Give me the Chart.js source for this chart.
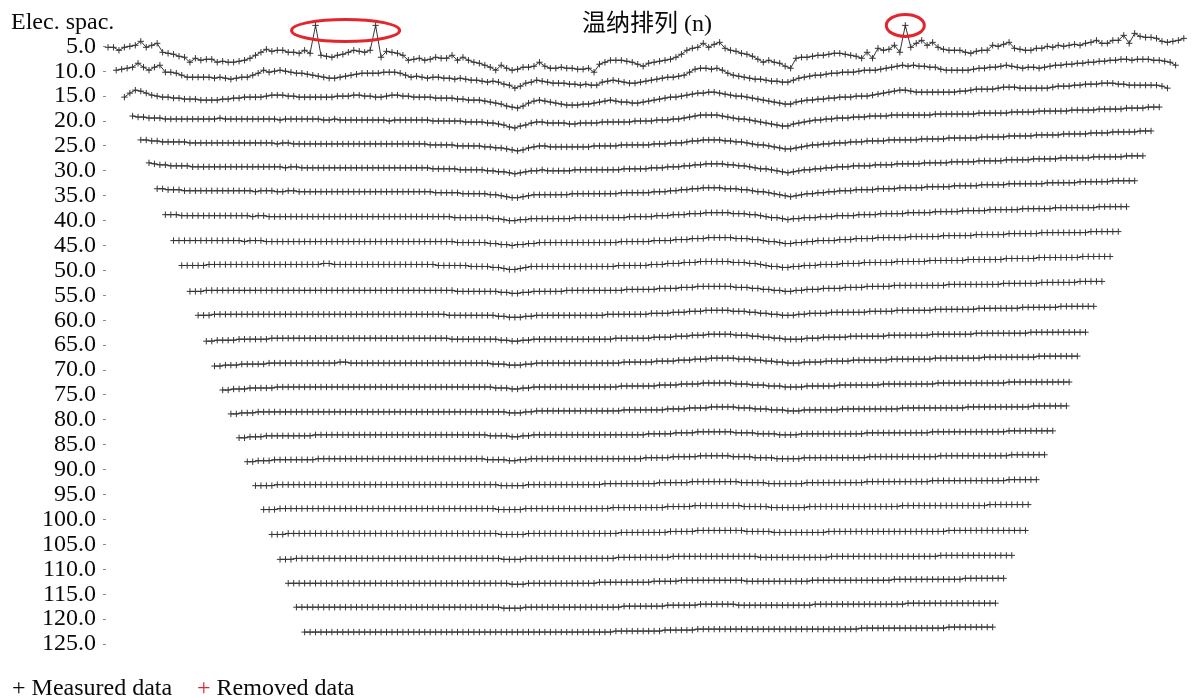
<!DOCTYPE html>
<html>
<head>
<meta charset="utf-8">
<title>温纳排列 (n)</title>
<script src="https://cdn.jsdelivr.net/npm/chart.js@4/dist/chart.umd.min.js"></script>
<style>
  html, body { margin: 0; padding: 0; background: #fff; }
  #wrap { position: relative; width: 1194px; height: 698px; overflow: hidden; }
  #c { position: absolute; left: 0; top: 0; }
  .txt { position: absolute; font-family: "Liberation Serif", "Noto Sans CJK SC", serif; font-size: 24px;
         line-height: 24px; color: #0a0a0a; white-space: nowrap; }
</style>
</head>
<body>
<div id="wrap">
  <canvas id="c" width="1194" height="698"></canvas>
  <div class="txt" style="left:11px; top:9px;">Elec. spac.</div>
  <div class="txt" style="left:582px; top:11px;">温纳排列 (n)</div>
  <div class="txt" style="left:12px; top:675px;">+ Measured data</div>
  <div class="txt" style="left:197px; top:675px;"><span style="color:#e3262d">+</span> Removed data</div>
</div>
<script>
// Electrode spacings (m) of the data levels, n = 1..25
const spacingLevels = [5, 10, 15, 20, 25, 30, 35, 40, 45, 50, 55, 60, 65, 70, 75, 80, 85, 90, 95, 100, 105, 110, 115, 120, 125];

// Profile offsets of each level, one value per Wenner station (0.2 spacing units per step, positive = downward)
const row5 = [1,1,4,1,0,-1,-5,1,-1,-3,6,7,8,10,11,16,12,14,13,13,16,15,16,16,15,14,12,9,6,3,5,4,4,6,6,7,4,7,-21,9,10,11,9,8,6,4,5,6,4,-21,11,5,6,7,9,14,13,12,14,13,11,12,12,9,14,11,14,16,17,19,21,24,19,22,24,23,21,21,20,16,20,22,22,21,22,22,23,23,22,26,18,16,14,14,14,15,16,18,20,17,16,15,14,13,11,8,4,2,1,-3,1,-2,-4,2,4,5,7,8,10,13,16,14,16,17,20,22,12,11,11,10,9,9,8,7,7,8,9,10,12,6,12,2,4,3,-1,6,-21,1,-3,-6,-1,-4,1,3,4,4,4,6,7,5,4,4,-1,0,-2,-4,2,3,4,4,2,2,0,1,-1,0,-1,-2,-1,-3,-4,-6,-3,-3,-6,-6,-11,-3,-13,-10,-9,-9,-8,-5,-4,-5,-6,-8];
const row10 = [-1,-2,-3,-4,-8,-4,-1,-4,-6,1,1,2,4,6,6,6,6,6,7,6,7,8,7,6,6,4,2,-1,1,0,-1,0,1,2,2,3,4,5,6,7,7,6,5,4,3,2,2,2,2,1,1,1,2,4,6,5,6,7,6,6,7,7,8,7,8,9,9,10,11,10,11,13,14,17,15,12,11,9,10,11,12,12,12,13,13,14,13,14,14,11,10,9,10,11,12,12,11,10,9,8,7,6,6,5,4,1,-2,-3,-3,-2,-3,-1,2,4,5,6,7,8,8,9,10,10,11,11,9,7,6,5,4,4,3,2,2,1,1,1,0,-1,-1,-1,-2,-3,-4,-5,-6,-5,-6,-5,-5,-4,-4,-2,-1,-1,-1,-1,-1,-2,-3,-3,-4,-4,-5,-6,-5,-4,-3,-4,-4,-3,-4,-5,-6,-6,-7,-7,-8,-8,-9,-9,-10,-10,-11,-11,-12,-12,-11,-12,-12,-12,-11,-11,-10,-9,-6];
const row15 = [1,-3,-6,-5,-3,-1,0,1,1,2,2,3,3,3,4,4,4,4,3,3,2,2,1,1,1,1,0,-1,-1,-1,0,0,1,1,1,1,1,1,1,0,0,0,-1,-1,0,0,1,1,0,-1,-1,0,0,1,1,1,1,2,2,2,2,3,3,4,4,4,5,6,7,8,10,11,12,10,7,5,4,5,6,7,8,9,9,9,8,8,7,6,5,4,5,6,6,7,7,6,5,4,3,2,1,1,0,-1,-2,-3,-3,-4,-4,-3,-2,-1,0,0,1,2,3,4,5,6,7,8,8,6,5,4,4,3,3,2,2,1,1,1,0,0,0,-1,-2,-3,-4,-5,-6,-6,-5,-4,-4,-4,-4,-4,-4,-4,-4,-5,-5,-6,-7,-7,-7,-7,-8,-9,-9,-9,-8,-8,-8,-8,-8,-8,-9,-10,-10,-10,-11,-11,-12,-12,-12,-13,-13,-13,-12,-12,-11,-11,-11,-11,-11,-11,-10,-8];
const row20 = [-5,-4,-4,-3,-3,-3,-2,-2,-2,-2,-2,-2,-2,-2,-2,-2,-3,-2,-2,-2,-2,-2,-2,-2,-2,-2,-2,-1,-2,-2,-2,-2,-2,-2,-2,-1,-1,-2,-1,-1,-1,-1,-1,-1,-1,-1,-1,0,-1,-1,-1,-1,-1,-1,-1,0,0,0,0,0,0,1,1,1,1,2,2,3,4,6,7,5,4,2,1,1,2,2,2,2,3,3,2,2,2,2,1,1,1,1,1,1,0,0,0,0,-1,-1,-1,-2,-2,-3,-4,-5,-6,-6,-6,-6,-5,-4,-3,-2,-2,-1,0,1,2,3,4,5,5,3,2,1,0,-1,-1,-2,-2,-3,-3,-3,-4,-4,-4,-5,-5,-5,-5,-6,-6,-6,-6,-6,-6,-6,-6,-7,-7,-7,-7,-7,-7,-7,-7,-8,-8,-8,-8,-8,-8,-9,-9,-9,-9,-9,-10,-10,-10,-10,-10,-10,-11,-11,-11,-11,-11,-12,-12,-12,-12,-12,-13,-13,-13,-13,-14,-14,-14];
const row25 = [-6,-6,-5,-5,-4,-4,-4,-4,-4,-3,-3,-3,-3,-3,-3,-3,-3,-3,-3,-3,-3,-3,-3,-3,-3,-2,-3,-3,-2,-2,-2,-2,-2,-2,-2,-2,-2,-2,-2,-2,-2,-2,-2,-2,-2,-2,-2,-2,-2,-2,-2,-2,-2,-1,-1,-1,-1,-1,0,0,0,0,0,1,1,2,2,3,4,5,4,2,1,0,0,1,1,1,1,1,1,1,1,0,0,0,0,0,-1,-1,-1,-1,-1,-1,-2,-2,-2,-3,-3,-3,-4,-5,-5,-6,-6,-6,-6,-5,-5,-4,-4,-3,-2,-1,-1,0,1,2,3,3,2,1,0,-1,-1,-2,-2,-3,-3,-3,-4,-4,-4,-5,-5,-5,-5,-6,-6,-6,-6,-6,-6,-7,-7,-7,-7,-7,-8,-8,-8,-8,-8,-8,-9,-9,-9,-9,-9,-10,-10,-10,-10,-10,-11,-11,-11,-11,-11,-12,-12,-12,-12,-12,-13,-13,-13,-13,-14,-14,-14,-14,-14,-15,-15,-15];
const row30 = [-8,-7,-6,-6,-5,-5,-5,-5,-4,-4,-4,-4,-4,-4,-4,-4,-4,-4,-4,-4,-4,-4,-4,-4,-4,-3,-4,-4,-3,-3,-3,-3,-3,-3,-3,-3,-3,-3,-3,-3,-3,-3,-3,-3,-3,-3,-3,-3,-3,-3,-3,-3,-2,-2,-2,-2,-2,-1,-1,-1,-1,-1,0,0,1,1,2,3,2,1,0,0,-1,0,0,0,0,0,-1,-1,-1,-1,-1,-1,-1,-1,-1,-2,-2,-2,-2,-2,-3,-3,-3,-4,-4,-4,-5,-5,-6,-6,-7,-7,-7,-7,-6,-6,-5,-5,-4,-3,-2,-2,-1,0,1,2,1,0,-1,-1,-2,-2,-3,-3,-4,-4,-4,-5,-5,-5,-5,-6,-6,-6,-6,-7,-7,-7,-7,-7,-8,-8,-8,-8,-8,-9,-9,-9,-9,-9,-10,-10,-10,-10,-10,-11,-11,-11,-11,-11,-12,-12,-12,-12,-12,-13,-13,-13,-13,-13,-13,-14,-14,-14,-14,-14,-14,-15,-15,-15,-15];
const row35 = [-7,-7,-6,-6,-6,-5,-5,-5,-5,-5,-5,-5,-5,-5,-5,-5,-5,-5,-4,-5,-5,-5,-4,-4,-5,-5,-4,-4,-4,-4,-4,-4,-4,-4,-4,-4,-4,-4,-4,-4,-4,-4,-4,-4,-4,-4,-4,-4,-4,-4,-4,-3,-3,-3,-3,-3,-2,-2,-2,-2,-2,-1,-1,0,1,2,2,1,0,-1,-1,-1,-1,-1,-1,-1,-2,-2,-2,-2,-2,-2,-2,-2,-2,-3,-3,-3,-3,-3,-3,-4,-4,-4,-5,-5,-6,-6,-7,-7,-8,-8,-8,-8,-7,-7,-7,-6,-6,-5,-4,-4,-3,-2,-1,0,1,0,-1,-2,-2,-3,-3,-4,-4,-5,-5,-5,-6,-6,-6,-6,-7,-7,-7,-7,-8,-8,-8,-8,-8,-9,-9,-9,-9,-9,-10,-10,-10,-10,-10,-11,-11,-11,-11,-11,-12,-12,-12,-12,-12,-12,-12,-13,-13,-13,-13,-13,-13,-14,-14,-14,-14,-14,-14,-15,-15,-15,-15,-15];
const row40 = [-6,-6,-6,-5,-5,-5,-5,-5,-5,-5,-5,-5,-5,-5,-5,-5,-4,-5,-5,-4,-4,-4,-4,-4,-4,-4,-4,-4,-4,-4,-4,-4,-4,-4,-4,-4,-4,-4,-4,-4,-4,-4,-4,-4,-4,-4,-4,-4,-4,-4,-4,-4,-4,-3,-3,-3,-3,-3,-3,-3,-2,-2,-1,0,0,-1,-1,-2,-2,-2,-2,-2,-2,-2,-2,-3,-3,-3,-3,-3,-3,-3,-3,-3,-3,-4,-4,-4,-4,-4,-5,-5,-5,-6,-6,-6,-7,-7,-7,-8,-8,-8,-8,-8,-7,-7,-7,-6,-6,-5,-4,-3,-3,-2,-1,-2,-2,-3,-3,-3,-4,-4,-4,-5,-5,-5,-5,-6,-6,-6,-6,-7,-7,-7,-7,-7,-8,-8,-8,-8,-8,-9,-9,-9,-9,-9,-10,-10,-10,-10,-10,-11,-11,-11,-11,-11,-11,-12,-12,-12,-12,-12,-12,-13,-13,-13,-13,-13,-13,-13,-13,-14,-14,-14,-14,-14,-14];
const row45 = [-5,-5,-5,-5,-5,-5,-5,-5,-5,-5,-5,-5,-5,-4,-5,-5,-5,-4,-4,-4,-4,-4,-4,-4,-4,-4,-4,-4,-4,-4,-4,-4,-4,-4,-4,-4,-4,-4,-4,-4,-4,-4,-4,-4,-4,-4,-4,-4,-4,-4,-4,-4,-3,-3,-3,-3,-3,-3,-2,-2,-1,-1,0,-1,-1,-2,-2,-3,-3,-3,-3,-3,-3,-3,-3,-3,-3,-3,-3,-3,-3,-3,-4,-4,-4,-4,-4,-4,-5,-5,-5,-5,-6,-6,-6,-7,-7,-7,-8,-8,-8,-8,-8,-7,-7,-7,-6,-6,-5,-4,-4,-3,-2,-2,-3,-3,-4,-4,-5,-5,-5,-5,-6,-6,-6,-7,-7,-7,-7,-8,-8,-8,-8,-8,-8,-9,-9,-9,-9,-9,-9,-10,-10,-10,-10,-10,-10,-11,-11,-11,-11,-11,-11,-12,-12,-12,-12,-12,-12,-13,-13,-13,-13,-13,-13,-13,-13,-13,-14,-14,-14,-14,-14,-14];
const row50 = [-5,-5,-5,-5,-5,-6,-6,-6,-6,-6,-6,-6,-6,-6,-6,-6,-6,-6,-6,-6,-6,-6,-6,-6,-6,-6,-7,-7,-6,-6,-6,-6,-6,-6,-6,-6,-6,-6,-6,-6,-6,-6,-6,-6,-6,-6,-6,-5,-5,-5,-5,-5,-5,-4,-4,-4,-4,-3,-3,-2,-1,-1,-2,-3,-4,-4,-4,-4,-4,-4,-4,-4,-4,-4,-4,-4,-4,-4,-4,-4,-5,-5,-5,-5,-5,-5,-6,-6,-6,-7,-7,-7,-8,-8,-8,-9,-9,-9,-9,-9,-9,-8,-8,-8,-7,-7,-6,-5,-4,-4,-3,-3,-4,-4,-5,-5,-5,-6,-6,-6,-6,-7,-7,-7,-7,-8,-8,-8,-8,-8,-8,-9,-9,-9,-9,-9,-9,-10,-10,-10,-10,-10,-10,-10,-11,-11,-11,-11,-11,-11,-11,-12,-12,-12,-12,-12,-12,-13,-13,-13,-13,-13,-13,-13,-13,-14,-14,-14,-14,-14,-14];
const row55 = [-4,-4,-4,-5,-5,-5,-5,-5,-5,-5,-5,-5,-5,-5,-5,-5,-5,-5,-5,-5,-5,-5,-5,-5,-5,-5,-5,-5,-5,-5,-5,-5,-5,-5,-5,-5,-5,-5,-5,-5,-5,-5,-5,-5,-5,-5,-5,-5,-5,-4,-4,-4,-4,-4,-4,-4,-4,-3,-3,-2,-2,-3,-3,-4,-4,-4,-4,-4,-4,-5,-5,-5,-5,-5,-5,-5,-5,-5,-5,-5,-6,-6,-6,-6,-6,-6,-7,-7,-7,-7,-8,-8,-8,-9,-9,-9,-9,-9,-9,-9,-8,-8,-8,-7,-7,-6,-6,-5,-5,-4,-4,-5,-5,-6,-6,-6,-7,-7,-7,-7,-8,-8,-8,-8,-9,-9,-9,-9,-9,-10,-10,-10,-10,-10,-10,-10,-10,-10,-10,-11,-11,-11,-11,-11,-11,-11,-11,-11,-11,-12,-12,-12,-12,-12,-12,-12,-13,-13,-13,-13,-13,-13,-13,-14,-14,-14,-14,-14];
const row60 = [-5,-5,-5,-6,-6,-6,-6,-6,-6,-6,-6,-6,-6,-6,-6,-6,-6,-6,-6,-6,-6,-6,-6,-6,-6,-6,-6,-6,-6,-6,-6,-6,-6,-6,-6,-6,-6,-6,-6,-6,-6,-6,-6,-6,-6,-6,-5,-5,-5,-5,-5,-5,-5,-5,-5,-4,-4,-3,-3,-3,-4,-4,-5,-5,-5,-5,-5,-5,-5,-5,-5,-5,-5,-5,-5,-6,-6,-6,-6,-6,-6,-6,-6,-7,-7,-7,-7,-8,-8,-8,-9,-9,-9,-10,-10,-10,-10,-10,-9,-9,-9,-8,-8,-7,-7,-6,-6,-5,-5,-5,-6,-6,-7,-7,-7,-7,-8,-8,-8,-8,-8,-8,-8,-9,-9,-9,-9,-9,-10,-10,-10,-10,-10,-10,-10,-11,-11,-11,-11,-11,-11,-11,-11,-12,-12,-12,-12,-12,-12,-12,-12,-13,-13,-13,-13,-13,-13,-13,-14,-14,-14,-14,-14,-14,-14];
const row65 = [-4,-4,-5,-5,-5,-5,-6,-6,-6,-6,-6,-6,-7,-7,-7,-7,-7,-7,-7,-7,-7,-7,-7,-7,-7,-7,-7,-7,-7,-7,-7,-7,-7,-7,-7,-7,-7,-7,-7,-7,-7,-7,-7,-7,-7,-6,-6,-6,-6,-6,-6,-6,-6,-6,-5,-5,-4,-4,-5,-5,-6,-6,-6,-6,-6,-6,-6,-6,-6,-6,-6,-6,-6,-6,-6,-7,-7,-7,-7,-7,-7,-7,-8,-8,-8,-8,-9,-9,-9,-10,-10,-10,-11,-11,-11,-11,-11,-10,-10,-10,-9,-9,-8,-8,-7,-7,-6,-6,-6,-6,-7,-7,-7,-8,-8,-8,-8,-8,-9,-9,-9,-9,-9,-9,-9,-10,-10,-10,-10,-10,-10,-10,-10,-11,-11,-11,-11,-11,-11,-11,-11,-12,-12,-12,-12,-12,-12,-12,-12,-12,-12,-13,-13,-13,-13,-13,-13,-13,-13,-13,-13,-13];
const row70 = [-4,-4,-5,-5,-5,-6,-6,-6,-6,-6,-7,-7,-7,-7,-7,-7,-7,-7,-7,-7,-7,-7,-7,-8,-8,-7,-7,-7,-7,-7,-7,-7,-7,-7,-7,-7,-7,-7,-7,-7,-7,-7,-7,-7,-7,-7,-7,-7,-7,-7,-7,-6,-6,-6,-5,-5,-5,-6,-6,-7,-7,-7,-7,-7,-7,-7,-7,-7,-7,-7,-7,-7,-7,-7,-7,-8,-8,-8,-8,-8,-8,-9,-9,-9,-9,-10,-10,-10,-11,-11,-11,-12,-12,-12,-12,-12,-11,-11,-11,-10,-10,-9,-9,-8,-8,-7,-7,-7,-8,-8,-8,-8,-9,-9,-9,-9,-9,-10,-10,-10,-10,-10,-10,-10,-11,-11,-11,-11,-11,-11,-11,-11,-12,-12,-12,-12,-12,-12,-12,-12,-12,-13,-13,-13,-13,-13,-13,-13,-13,-13,-13,-14,-14,-14,-14,-14,-14,-14,-14];
const row75 = [-5,-5,-6,-6,-6,-7,-7,-7,-7,-7,-8,-8,-8,-8,-8,-8,-8,-8,-8,-8,-8,-8,-8,-8,-8,-8,-8,-8,-8,-8,-8,-8,-8,-8,-8,-8,-8,-8,-8,-8,-8,-8,-8,-8,-8,-8,-8,-8,-8,-8,-7,-7,-7,-6,-6,-7,-7,-8,-8,-8,-8,-8,-8,-8,-8,-8,-8,-8,-8,-8,-8,-8,-8,-9,-9,-9,-9,-9,-9,-9,-10,-10,-10,-10,-11,-11,-11,-11,-12,-12,-12,-12,-12,-12,-11,-11,-11,-10,-10,-10,-9,-9,-9,-8,-8,-8,-8,-9,-9,-9,-9,-9,-9,-10,-10,-10,-10,-10,-10,-10,-10,-11,-11,-11,-11,-11,-11,-11,-11,-11,-11,-12,-12,-12,-12,-12,-12,-12,-12,-12,-12,-12,-12,-12,-13,-13,-13,-13,-13,-13,-13,-13,-13,-13,-13,-13];
const row80 = [-6,-6,-7,-7,-7,-8,-8,-8,-8,-8,-8,-8,-8,-8,-8,-8,-8,-8,-8,-8,-8,-8,-8,-8,-8,-8,-8,-8,-8,-8,-8,-8,-8,-8,-8,-8,-8,-8,-8,-8,-8,-8,-8,-8,-8,-8,-8,-8,-8,-8,-8,-7,-7,-7,-8,-8,-9,-9,-9,-9,-9,-9,-9,-9,-9,-9,-9,-9,-9,-9,-9,-9,-10,-10,-10,-10,-10,-10,-10,-10,-11,-11,-11,-11,-12,-12,-12,-12,-13,-13,-13,-13,-13,-12,-12,-12,-11,-11,-11,-10,-10,-10,-9,-9,-9,-10,-10,-10,-10,-10,-10,-10,-11,-11,-11,-11,-11,-11,-11,-11,-11,-11,-11,-12,-12,-12,-12,-12,-12,-12,-12,-12,-12,-12,-12,-13,-13,-13,-13,-13,-13,-13,-13,-13,-13,-13,-13,-14,-14,-14,-14,-14,-14,-14];
const row85 = [-7,-7,-8,-8,-8,-9,-9,-9,-9,-9,-9,-9,-9,-9,-10,-10,-10,-10,-10,-10,-10,-10,-10,-10,-10,-10,-10,-10,-10,-10,-10,-10,-10,-10,-10,-10,-10,-10,-10,-10,-10,-10,-10,-10,-10,-10,-9,-9,-9,-9,-8,-8,-9,-9,-10,-10,-10,-10,-10,-10,-10,-10,-10,-10,-10,-10,-10,-10,-10,-10,-10,-10,-10,-10,-10,-11,-11,-11,-11,-11,-12,-12,-12,-12,-13,-13,-13,-13,-13,-13,-13,-12,-12,-12,-12,-11,-11,-11,-11,-10,-10,-10,-10,-11,-11,-11,-11,-11,-11,-11,-11,-11,-11,-11,-11,-12,-12,-12,-12,-12,-12,-12,-12,-12,-12,-12,-12,-13,-13,-13,-13,-13,-13,-13,-13,-13,-13,-13,-13,-13,-13,-14,-14,-14,-14,-14,-14,-14,-14,-14];
const row90 = [-8,-8,-9,-9,-9,-10,-10,-10,-10,-10,-10,-10,-10,-11,-11,-11,-11,-11,-11,-11,-11,-11,-11,-11,-11,-11,-11,-11,-11,-11,-11,-11,-11,-11,-11,-11,-11,-11,-11,-11,-11,-11,-11,-11,-10,-10,-10,-10,-9,-9,-10,-10,-11,-11,-11,-11,-11,-11,-11,-11,-11,-11,-11,-11,-11,-11,-11,-11,-11,-11,-11,-11,-11,-12,-12,-12,-12,-12,-13,-13,-13,-13,-13,-14,-14,-14,-14,-14,-14,-13,-13,-13,-13,-12,-12,-12,-12,-11,-11,-11,-11,-11,-12,-12,-12,-12,-12,-12,-12,-12,-12,-12,-12,-12,-13,-13,-13,-13,-13,-13,-13,-13,-13,-13,-13,-13,-13,-14,-14,-14,-14,-14,-14,-14,-14,-14,-14,-14,-14,-14,-15,-15,-15,-15,-15,-15,-15];
const row95 = [-9,-9,-9,-9,-10,-10,-10,-10,-10,-10,-10,-10,-10,-10,-10,-10,-10,-10,-10,-10,-10,-10,-10,-10,-10,-10,-10,-10,-10,-10,-10,-10,-10,-10,-10,-10,-10,-10,-10,-10,-10,-10,-10,-10,-10,-9,-9,-9,-9,-9,-10,-10,-10,-10,-10,-10,-10,-10,-10,-10,-10,-10,-10,-10,-11,-11,-11,-11,-11,-11,-11,-11,-11,-11,-12,-12,-12,-12,-12,-12,-13,-13,-13,-13,-13,-13,-13,-13,-13,-12,-12,-12,-12,-12,-11,-11,-11,-11,-11,-11,-11,-12,-12,-12,-12,-12,-12,-12,-12,-12,-12,-12,-13,-13,-13,-13,-13,-13,-13,-13,-13,-13,-13,-13,-14,-14,-14,-14,-14,-14,-14,-14,-14,-14,-14,-14,-14,-14,-15,-15,-15,-15,-15,-15];
const row100 = [-10,-10,-10,-11,-11,-11,-11,-11,-11,-11,-11,-11,-11,-11,-11,-11,-11,-11,-11,-11,-11,-11,-11,-11,-11,-11,-11,-11,-11,-11,-11,-11,-11,-11,-11,-11,-11,-11,-11,-11,-11,-11,-11,-10,-10,-10,-10,-10,-11,-11,-11,-11,-11,-11,-11,-11,-11,-11,-11,-11,-11,-11,-11,-11,-12,-12,-12,-12,-12,-12,-12,-12,-12,-12,-13,-13,-13,-13,-13,-14,-14,-14,-14,-14,-14,-14,-14,-14,-13,-13,-13,-13,-13,-12,-12,-12,-12,-12,-12,-12,-13,-13,-13,-13,-13,-13,-13,-13,-13,-13,-13,-13,-13,-13,-13,-13,-13,-14,-14,-14,-14,-14,-14,-14,-14,-14,-14,-14,-14,-14,-14,-14,-14,-15,-15,-15,-15,-15,-15,-15,-15];
const row105 = [-10,-10,-10,-11,-11,-11,-11,-11,-11,-11,-11,-11,-11,-11,-11,-11,-11,-11,-11,-11,-11,-11,-11,-11,-11,-11,-11,-11,-11,-11,-11,-11,-11,-11,-11,-11,-11,-11,-11,-11,-11,-11,-10,-10,-10,-10,-10,-11,-11,-11,-11,-11,-11,-11,-11,-11,-11,-11,-11,-11,-11,-11,-11,-11,-12,-12,-12,-12,-12,-12,-12,-12,-12,-13,-13,-13,-13,-13,-14,-14,-14,-14,-14,-14,-14,-14,-14,-13,-13,-13,-13,-13,-12,-12,-12,-12,-12,-12,-12,-12,-12,-12,-13,-13,-13,-13,-13,-13,-13,-13,-13,-13,-13,-13,-13,-13,-13,-13,-13,-13,-13,-13,-13,-13,-14,-14,-14,-14,-14,-14,-14,-14,-14,-14,-14,-14,-14,-14,-14];
const row110 = [-10,-10,-10,-11,-11,-11,-11,-11,-11,-11,-11,-11,-11,-11,-11,-11,-11,-11,-11,-11,-11,-11,-11,-11,-11,-11,-11,-11,-11,-11,-11,-11,-11,-11,-11,-11,-11,-11,-11,-11,-11,-10,-10,-10,-10,-11,-11,-11,-11,-11,-11,-11,-11,-11,-11,-11,-11,-11,-11,-11,-11,-11,-12,-12,-12,-12,-12,-12,-12,-12,-12,-12,-13,-13,-13,-13,-13,-13,-13,-13,-13,-13,-13,-13,-13,-13,-13,-13,-12,-12,-12,-12,-12,-12,-12,-12,-12,-12,-12,-12,-12,-13,-13,-13,-13,-13,-13,-13,-13,-13,-13,-13,-13,-13,-13,-13,-13,-13,-13,-13,-13,-14,-14,-14,-14,-14,-14,-14,-14,-14,-14,-14,-14,-14,-14];
const row115 = [-11,-11,-11,-11,-11,-11,-11,-11,-11,-11,-11,-11,-11,-11,-11,-11,-11,-11,-11,-11,-11,-11,-11,-11,-11,-11,-11,-11,-11,-11,-11,-11,-11,-11,-11,-11,-11,-11,-11,-11,-11,-10,-10,-10,-11,-11,-11,-11,-11,-11,-11,-11,-11,-11,-11,-11,-11,-12,-12,-12,-12,-12,-12,-12,-12,-12,-12,-13,-13,-13,-13,-13,-14,-14,-14,-14,-14,-14,-14,-14,-14,-14,-14,-14,-13,-13,-13,-13,-13,-13,-13,-13,-13,-13,-13,-13,-14,-14,-14,-14,-14,-14,-14,-14,-14,-14,-14,-14,-14,-14,-14,-15,-15,-15,-15,-15,-15,-15,-15,-15,-15,-15,-15,-15,-16,-16,-16,-16,-16,-16,-16,-16];
const row120 = [-12,-12,-12,-12,-12,-12,-12,-12,-12,-12,-12,-12,-12,-12,-12,-12,-12,-12,-12,-12,-12,-12,-12,-12,-12,-12,-12,-12,-12,-12,-12,-12,-12,-12,-12,-12,-12,-12,-11,-11,-11,-11,-12,-12,-12,-12,-12,-12,-12,-12,-12,-12,-12,-12,-12,-12,-12,-12,-12,-12,-13,-13,-13,-13,-13,-13,-13,-13,-14,-14,-14,-14,-14,-14,-15,-15,-15,-15,-15,-15,-15,-14,-14,-14,-14,-14,-14,-14,-14,-14,-14,-14,-14,-14,-14,-15,-15,-15,-15,-15,-15,-15,-15,-15,-15,-15,-15,-15,-15,-15,-15,-15,-16,-16,-16,-16,-16,-16,-16,-16,-16,-16,-16,-16,-16,-16,-16,-16,-16];
const row125 = [-12,-12,-12,-12,-12,-12,-12,-12,-12,-12,-12,-12,-12,-12,-12,-12,-12,-12,-12,-12,-12,-12,-12,-12,-12,-12,-12,-12,-12,-12,-12,-12,-12,-12,-12,-12,-12,-12,-12,-12,-12,-12,-12,-12,-12,-12,-12,-12,-12,-12,-12,-12,-12,-12,-12,-12,-12,-13,-13,-13,-13,-13,-13,-13,-13,-13,-14,-14,-14,-14,-14,-14,-15,-15,-15,-15,-15,-15,-15,-15,-15,-15,-15,-15,-15,-15,-15,-15,-15,-15,-15,-15,-15,-15,-15,-15,-15,-15,-15,-15,-15,-15,-16,-16,-16,-16,-16,-16,-16,-16,-16,-16,-16,-16,-16,-16,-16,-16,-17,-17,-17,-17,-17,-17,-17,-17,-17];

const profiles = [row5, row10, row15, row20, row25, row30, row35, row40, row45, row50, row55, row60, row65,
                  row70, row75, row80, row85, row90, row95, row100, row105, row110, row115, row120, row125];

// Outlying readings on the first level (station indices), ringed in red
const circledGroups = [[38, 49], [146]];

const removedData = [];

const ink = '#363636';

// Wenner station i on level n sits at electrode position i + 1.5n
const datasets = profiles.map((offsets, r) => {
  const n = r + 1;
  const level = spacingLevels[r];
  return {
    label: 'Measured data ' + level,
    data: offsets.map((o, i) => ({ x: i + 1.5 * n, y: level + o * 0.2 })),
    borderColor: ink,
    borderWidth: 1,
    pointStyle: 'cross',
    pointRadius: 3.2,
    pointBorderWidth: 1,
    pointBorderColor: ink,
    pointBackgroundColor: ink,
    tension: 0,
    clip: false
  };
});
datasets.push({
  label: 'Removed data',
  data: removedData,
  borderColor: '#e3262d',
  pointStyle: 'cross',
  pointRadius: 3.2,
  showLine: false,
  clip: false
});

const ringPlugin = {
  id: 'ringOutliers',
  afterDatasetsDraw(chart) {
    const pts = chart.getDatasetMeta(0).data;
    const ctx = chart.ctx;
    ctx.save();
    ctx.strokeStyle = '#e3262d';
    ctx.lineWidth = 3;
    circledGroups.forEach(group => {
      const xs = group.map(i => pts[i].x);
      const ys = group.map(i => pts[i].y);
      const x0 = Math.min(...xs), x1 = Math.max(...xs);
      const yTop = Math.min(...ys);
      const pair = group.length > 1;
      const cx = (x0 + x1) / 2;
      const cy = yTop + (pair ? 5 : 0);
      const rx = (x1 - x0) / 2 + (pair ? 24 : 19);
      const ry = 11;
      ctx.beginPath();
      ctx.ellipse(cx, cy, rx, ry, 0, 0, Math.PI * 2);
      ctx.stroke();
    });
    ctx.restore();
  }
};

new Chart(document.getElementById('c'), {
  type: 'line',
  data: { datasets },
  plugins: [ringPlugin],
  options: {
    responsive: false,
    animation: false,
    events: [],
    layout: { padding: { top: 21, bottom: 44, left: 0, right: 0 } },
    plugins: {
      legend: { display: false },
      tooltip: { enabled: false },
      title: { display: false }
    },
    scales: {
      x: { type: 'linear', display: false, min: 1.13, max: 199.45 },
      y: {
        type: 'linear',
        reverse: true,
        min: 0,
        max: 127,
        afterFit(scale) { scale.width = 106; },
        afterBuildTicks(scale) { scale.ticks = spacingLevels.map(v => ({ value: v })); },
        ticks: {
          autoSkip: false,
          padding: 7,
          color: '#0a0a0a',
          font: { family: '"Liberation Serif", serif', size: 24 },
          callback: v => Number(v).toFixed(1)
        },
        grid: { drawOnChartArea: false, drawTicks: true, tickLength: 3, color: '#8a8a8a', lineWidth: 1 },
        border: { display: false }
      }
    }
  }
});
</script>
</body>
</html>
